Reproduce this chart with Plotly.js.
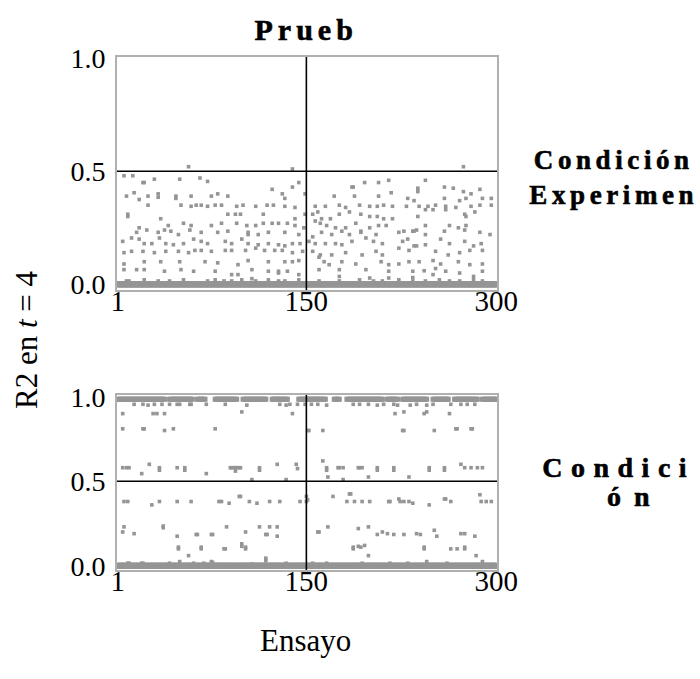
<!DOCTYPE html>
<html>
<head>
<meta charset="utf-8">
<script src="https://cdn.plot.ly/plotly-3.0.1.min.js"></script>
<style>
html,body{margin:0;padding:0;background:#fff;}
.annotation[data-index="0"] text{letter-spacing:5px;stroke:#000;stroke-width:0.6px;}
.annotation[data-index="1"] text{letter-spacing:4.6px;stroke:#000;stroke-width:0.6px;}
.annotation[data-index="2"] text{letter-spacing:8.5px;stroke:#000;stroke-width:0.6px;}
.annotation[data-index="3"] text{letter-spacing:13px;stroke:#000;stroke-width:0.6px;}
</style>
</head>
<body>
<div id="chart" style="width:700px;height:679px;"></div>
<script>
// ---------- text ----------
const titleTop = "Prueb";
const rowLabelTop = "Condición<br>Experimen";
const rowLabelBottom1 = "Condici";
const rowLabelBottom2 = "ón";
const yTitle = "R2 en <i>t</i> = 4";
const xTitle = "Ensayo";
const xTickVals = [1, 150, 300];
const xTickText = ["1", "150", "300"];
const yTickVals = [0, 0.5, 1];
const yTickText = ["0.0", "0.5", "1.0"];
const refX = 150;
const refY = 0.5;

// ---------- top panel ----------
const topX = [57,274,139,6,13,30,21,22,50,66,72,186,187,196,207,215,244,238,238,259,266,274,280,287,
 8,14,18,25,33,33,47,47,59,75,80,88,123,131,139,144,149,133,172,188,207,217,230,235,259,271,276,289,296,
 25,51,59,63,67,72,78,83,95,100,110,119,124,133,141,157,165,176,181,192,200,206,211,218,229,239,246,252,260,268,280,287,296,
 9,9,35,88,94,98,116,141,149,155,159,162,169,176,184,193,200,206,211,218,238,244,250,260,275,283,276,
 18,24,41,53,59,75,83,95,103,110,116,123,128,135,141,148,157,161,166,173,181,189,193,200,207,213,227,235,244,263,270,276,
 16,33,38,43,49,58,67,80,88,104,104,112,120,133,144,155,162,170,178,184,193,205,223,234,237,244,259,275,287,295,
 5,12,18,22,28,34,39,45,53,61,67,72,86,91,99,104,112,120,128,133,139,145,152,157,165,173,178,186,197,203,210,226,230,235,244,256,263,275,282,288,
 6,12,21,30,39,49,57,62,67,75,86,91,102,110,117,125,131,139,147,155,161,170,181,194,205,210,223,231,237,252,262,271,279,289,
 6,22,35,50,70,80,96,104,120,133,139,144,160,164,168,178,189,209,215,223,231,239,250,256,270,279,289,
 6,16,22,38,51,61,78,107,120,128,135,160,176,197,215,234,243,252,260,271,289,
 91,96,107,128,144,176,200,215,234,250,282];
const topY = [0.52,0.52,0.51,0.48,0.48,0.465,0.45,0.45,0.465,0.47,0.455,0.43,0.43,0.45,0.45,0.46,0.46,0.425,0.41,0.43,0.425,0.41,0.40,0.42,
 0.39,0.405,0.375,0.39,0.40,0.385,0.39,0.38,0.39,0.39,0.40,0.39,0.42,0.40,0.43,0.45,0.40,0.38,0.39,0.39,0.39,0.405,0.38,0.37,0.38,0.37,0.38,0.38,0.38,
 0.35,0.35,0.345,0.35,0.35,0.345,0.35,0.35,0.345,0.35,0.345,0.35,0.35,0.345,0.34,0.345,0.345,0.35,0.34,0.35,0.345,0.345,0.35,0.345,0.345,0.345,0.345,0.35,0.345,0.34,0.345,0.35,0.35,
 0.31,0.30,0.29,0.31,0.31,0.31,0.31,0.29,0.31,0.31,0.32,0.29,0.29,0.31,0.32,0.31,0.30,0.30,0.29,0.29,0.30,0.33,0.33,0.33,0.31,0.32,0.30,
 0.25,0.24,0.26,0.27,0.26,0.26,0.27,0.27,0.26,0.26,0.27,0.27,0.27,0.27,0.26,0.25,0.28,0.27,0.26,0.25,0.25,0.27,0.235,0.25,0.26,0.26,0.235,0.235,0.26,0.26,0.25,0.26,
 0.23,0.23,0.24,0.235,0.22,0.24,0.23,0.23,0.235,0.23,0.22,0.22,0.23,0.23,0.22,0.21,0.23,0.22,0.235,0.22,0.23,0.22,0.23,0.235,0.24,0.22,0.235,0.24,0.23,0.22,
 0.19,0.205,0.20,0.18,0.18,0.205,0.18,0.175,0.18,0.20,0.19,0.18,0.19,0.18,0.20,0.18,0.175,0.18,0.175,0.17,0.18,0.18,0.19,0.18,0.18,0.18,0.175,0.19,0.205,0.19,0.18,0.19,0.20,0.17,0.175,0.20,0.18,0.19,0.17,0.18,
 0.14,0.146,0.146,0.14,0.146,0.146,0.14,0.15,0.15,0.146,0.15,0.15,0.15,0.16,0.15,0.15,0.15,0.14,0.146,0.146,0.13,0.13,0.14,0.13,0.146,0.13,0.16,0.15,0.17,0.146,0.13,0.14,0.15,0.15,
 0.09,0.10,0.10,0.10,0.10,0.095,0.087,0.105,0.10,0.10,0.10,0.105,0.12,0.10,0.087,0.10,0.09,0.10,0.087,0.09,0.10,0.10,0.105,0.09,0.10,0.087,0.09,
 0.065,0.065,0.065,0.058,0.065,0.058,0.058,0.065,0.058,0.058,0.058,0.065,0.065,0.065,0.058,0.058,0.06,0.07,0.058,0.05,0.058,
 0.043,0.043,0.025,0.05,0.043,0.035,0.028,0.028,0.03,0.043,0.035];
const topBumpX = [8,10,22,33,42,53,72,78,85,91,99,110,120,128,133,144,160,176,192,203,210,223,234,244,255,263,271,282,289];
const topBumpY = [0.015,0.015,0.02,0.015,0.015,0.02,0.015,0.02,0.015,0.015,0.02,0.015,0.02,0.015,0.015,0.02,0.015,0.015,0.02,0.015,0.015,0.02,0.015,0.015,0.02,0.015,0.015,0.02,0.015];

// ---------- bottom panel ----------
const botX = [5,29,32,38,99,139,220,227,243,245,263,
 5,21,22,38,45,78,151,152,163,226,227,251,268,269,280,281,
 5,8,10,26,34,48,54,90,91,93,94,95,97,98,113,127,142,143,163,166,175,176,179,191,192,194,206,219,247,259,272,275,280,285,289,
 20,71,94,107,134,167,179,199,231,34,54,113,166,206,219,247,259,
 6,9,28,34,48,59,81,83,89,97,98,105,111,121,129,145,150,150,151,171,184,185,182,188,194,200,215,216,223,224,227,231,234,247,259,260,264,287,288,292,296,
 6,5,14,37,37,48,63,64,75,76,87,102,113,118,119,121,127,127,159,160,167,191,199,206,210,214,219,227,237,240,251,253,272,275,283,
 49,49,57,67,67,85,86,99,99,102,102,187,187,191,193,196,199,243,243,264,269,275,275,284,
 9,10,20,21,42,50,61,69,75,76,107,118,118,134,155,166,194,216,230,245,261,289];
const botY = [0.90,0.90,0.90,0.90,0.91,0.90,0.90,0.91,0.90,0.91,0.90,
 0.81,0.81,0.81,0.80,0.81,0.81,0.80,0.80,0.80,0.80,0.80,0.80,0.81,0.81,0.81,0.81,
 0.58,0.58,0.58,0.60,0.58,0.58,0.58,0.58,0.58,0.58,0.58,0.58,0.58,0.58,0.58,0.60,0.60,0.575,0.62,0.58,0.58,0.58,0.58,0.58,0.58,0.58,0.58,0.58,0.58,0.58,0.60,0.58,0.58,0.58,0.58,
 0.545,0.545,0.56,0.51,0.51,0.525,0.51,0.525,0.525,0.565,0.565,0.565,0.565,0.565,0.565,0.565,0.565,
 0.38,0.38,0.36,0.38,0.38,0.38,0.38,0.38,0.37,0.41,0.41,0.38,0.37,0.38,0.38,0.38,0.41,0.38,0.39,0.41,0.425,0.425,0.38,0.38,0.38,0.38,0.38,0.38,0.395,0.38,0.38,0.38,0.37,0.36,0.395,0.395,0.38,0.42,0.38,0.38,0.38,
 0.23,0.20,0.19,0.235,0.225,0.175,0.185,0.185,0.185,0.185,0.23,0.20,0.23,0.185,0.185,0.23,0.23,0.175,0.20,0.20,0.23,0.22,0.23,0.185,0.20,0.19,0.185,0.185,0.19,0.185,0.21,0.175,0.19,0.19,0.175,
 0.10,0.11,0.06,0.10,0.11,0.10,0.10,0.13,0.115,0.10,0.11,0.10,0.11,0.115,0.11,0.12,0.06,0.10,0.11,0.10,0.10,0.10,0.11,0.06,
 0.015,0.015,0.015,0.015,0.015,0.025,0.015,0.015,0.025,0.02,0.01,0.03,0.045,0.015,0.015,0.015,0.015,0.015,0.015,0.025,0.015,0.025];
// near-1 band: filled trial ranges at R2 ≈ 0.985, plus a second row at ≈ 0.955
const botHighRanges = [[1,38],[42,60],[64,70],[78,95],[100,118],[123,135],[144,165],[172,176],[182,210],[214,222],[226,245],[250,262],[267,285],[289,300]];
const botHighY = 0.985;
const botRow2X = [14,21,25,30,36,42,48,50,58,59,71,86,103,129,134,137,143,149,154,159,166,187,192,199,206,211,219,222,232,237,245,250,264,272,277,283];
const botRow2Y = [0.955,0.955,0.95,0.955,0.955,0.955,0.955,0.955,0.955,0.955,0.955,0.955,0.95,0.955,0.95,0.955,0.955,0.955,0.955,0.955,0.95,0.955,0.955,0.955,0.95,0.955,0.955,0.95,0.95,0.955,0.95,0.955,0.955,0.955,0.955,0.955];
// every trial has responses at R2 = 0 in both conditions
const nTrials = 300;
const zeroY = 0;

// ---------- build ----------
const trials = [];
for (let t = 1; t <= nTrials; t++) trials.push(t);
const zeros = trials.map(() => zeroY);
const highX = [];
botHighRanges.forEach(r => { for (let t = r[0]; t <= r[1]; t++) highX.push(t); });
const highY = highX.map(() => botHighY);

const grey = '#959595';
const dot = {symbol: 'square', size: 3.6, color: grey, line: {width: 0}};
const band = {symbol: 'square', size: 6, color: grey, line: {width: 0}};

const data = [
  {x: trials, y: zeros, xaxis: 'x', yaxis: 'y', type: 'scatter', mode: 'markers', marker: band, hoverinfo: 'skip'},
  {x: topBumpX, y: topBumpY, xaxis: 'x', yaxis: 'y', type: 'scatter', mode: 'markers', marker: dot},
  {x: topX, y: topY, xaxis: 'x', yaxis: 'y', type: 'scatter', mode: 'markers', marker: dot},
  {x: trials, y: zeros, xaxis: 'x2', yaxis: 'y2', type: 'scatter', mode: 'markers', marker: band, hoverinfo: 'skip'},
  {x: highX, y: highY, xaxis: 'x2', yaxis: 'y2', type: 'scatter', mode: 'markers', marker: {symbol: 'square', size: 5, color: grey, line: {width: 0}}},
  {x: botRow2X, y: botRow2Y, xaxis: 'x2', yaxis: 'y2', type: 'scatter', mode: 'markers', marker: dot},
  {x: botX, y: botY, xaxis: 'x2', yaxis: 'y2', type: 'scatter', mode: 'markers', marker: dot}
];

const W = 700, H = 679;
const serif = '"Liberation Serif", "Times New Roman", Times, serif';
const axX = (anchor) => ({
  anchor: anchor, domain: [117 / W, 497 / W], range: [0.5, 300.5],
  tickvals: xTickVals, ticktext: xTickText, ticks: '', showgrid: false, zeroline: false,
  showline: true, mirror: true, linecolor: '#b0b0b0', linewidth: 2,
  ticklabelstandoff: -16,
  tickfont: {family: serif, size: 29, color: '#000'}
});
const axY = (anchor, dom, rng) => ({
  anchor: anchor, domain: dom, range: rng,
  tickvals: yTickVals, ticktext: yTickText, ticks: '', showgrid: false, zeroline: false,
  showline: true, mirror: true, linecolor: '#b0b0b0', linewidth: 2,
  ticklabelstandoff: 4,
  tickfont: {family: serif, size: 28, color: '#000'}
});

const lineStyle = {color: '#000', width: 1.6};
const bold = (s) => '<b>' + s + '</b>';
const layout = {
  width: W, height: H, margin: {l: 0, r: 0, t: 0, b: 0},
  paper_bgcolor: '#fff', plot_bgcolor: '#fff', showlegend: false,
  font: {family: serif},
  xaxis: axX('y'),
  yaxis: axY('x', [1 - 290 / H, 1 - 57 / H], [-0.025, 1.005]),
  xaxis2: axX('y2'),
  yaxis2: axY('x2', [1 - 570 / H, 1 - 395 / H], [-0.025, 1.01]),
  shapes: [
    {type: 'line', xref: 'x', yref: 'y domain', x0: refX, x1: refX, y0: 0, y1: 1, line: lineStyle},
    {type: 'line', xref: 'x domain', yref: 'y', x0: 0, x1: 1, y0: refY, y1: refY, line: lineStyle},
    {type: 'line', xref: 'x2', yref: 'y2 domain', x0: refX, x1: refX, y0: 0, y1: 1, line: lineStyle},
    {type: 'line', xref: 'x2 domain', yref: 'y2', x0: 0, x1: 1, y0: refY, y1: refY, line: lineStyle}
  ],
  annotations: [
    {text: bold(titleTop), xref: 'paper', yref: 'paper', x: 306 / W, y: 1 - 30 / H,
     xanchor: 'center', yanchor: 'middle', showarrow: false, font: {family: serif, size: 30, color: '#000'}},
    {text: bold(rowLabelTop), xref: 'paper', yref: 'paper', x: 614 / W, y: 1 - 178 / H,
     xanchor: 'center', yanchor: 'middle', align: 'center', showarrow: false, font: {family: serif, size: 27, color: '#000'}},
    {text: bold(rowLabelBottom1), xref: 'paper', yref: 'paper', x: 619 / W, y: 1 - 467 / H,
     xanchor: 'center', yanchor: 'middle', showarrow: false, font: {family: serif, size: 28, color: '#000'}},
    {text: bold(rowLabelBottom2), xref: 'paper', yref: 'paper', x: 635 / W, y: 1 - 497 / H,
     xanchor: 'center', yanchor: 'middle', showarrow: false, font: {family: serif, size: 28, color: '#000'}},
    {text: yTitle, xref: 'paper', yref: 'paper', x: 26 / W, y: 1 - 340 / H, textangle: -90,
     xanchor: 'center', yanchor: 'middle', showarrow: false, font: {family: serif, size: 31, color: '#000'}},
    {text: xTitle, xref: 'paper', yref: 'paper', x: 305 / W, y: 1 - 640 / H,
     xanchor: 'center', yanchor: 'middle', showarrow: false, font: {family: serif, size: 31, color: '#000'}}
  ]
};

Plotly.newPlot('chart', data, layout, {displayModeBar: false, staticPlot: true});
</script>
</body>
</html>
